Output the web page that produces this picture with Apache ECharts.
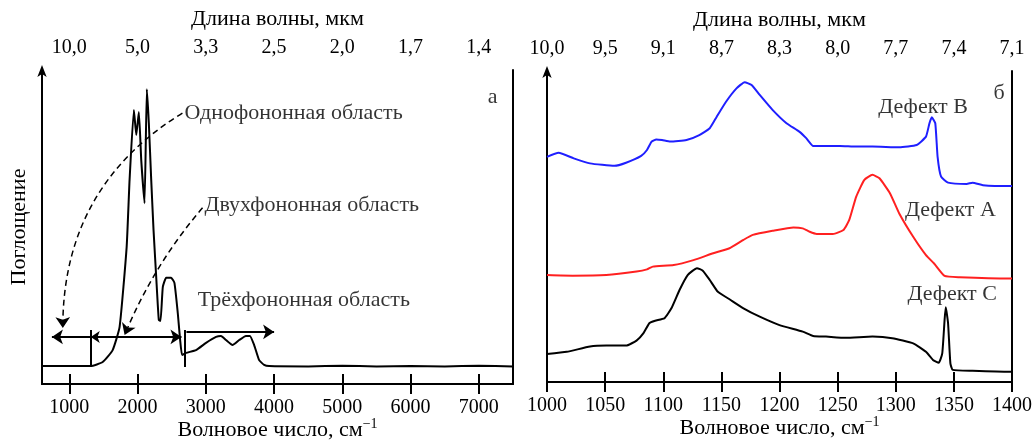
<!DOCTYPE html>
<html>
<head>
<meta charset="utf-8">
<script src="https://cdn.jsdelivr.net/npm/echarts@6/dist/echarts.min.js"></script>
<style>html,body{margin:0;padding:0;background:#fff;}#c{width:1032px;height:441px;}</style>
</head>
<body>
<div id="c"></div>
<script>
// ---------- Panel а (left) ----------
const leftTicks = [1000, 2000, 3000, 4000, 5000, 6000, 7000];
const leftX = [613, 1314, 1489, 1635, 1737, 1840, 1883, 1946, 1981, 2019, 2054, 2102, 2136, 2165, 2200, 2234, 2273, 2311, 2336, 2370, 2419, 2492, 2540, 2589, 2624, 2653, 2711, 2857, 3003, 3149, 3222, 3295, 3391, 3489, 3587, 3645, 3708, 3781, 3854, 3927, 4500, 5000, 5500, 6000, 6500, 7000, 7500];
const leftY = [5.7, 5.7, 7.0, 10.8, 18.2, 43.6, 65.0, 87.3, 79.3, 86.6, 71.3, 57.6, 93.9, 83.1, 65.0, 49.0, 34.1, 20.4, 20.1, 30.9, 33.8, 33.8, 32.2, 22.6, 14.0, 9.2, 9.9, 10.8, 13.1, 15.0, 15.3, 14.0, 12.4, 14.0, 15.3, 15.3, 12.4, 7.6, 6.1, 5.7, 5.6, 5.8, 5.6, 5.7, 5.6, 5.8, 5.6];
const leftTexts = ['Однофононная область', 'Двухфононная область', 'Трёхфононная область'];
const leftTextPos = [[2686, 86.3], [2980, 57.0], [2880, 26.8]];
// annotation geometry (data coordinates)
const dashedArrows = [[[2657, 86.3], [905, 17.8]], [[2952, 56.1], [1810, 15.6]]];
const dashedCurv = [-0.28, -0.08];
const singleArrows = [[[1314, 15.0], [745, 15.0]], [[2716, 16.6], [4000, 16.6]]];
const doubleArrows = [[[1314, 15.0], [2643, 15.0]]];
const bars = [[[1314, 17.2], [1314, 5.4]], [[2686, 17.2], [2686, 5.4]]];

// ---------- Panel б (right) ----------
const rightTicks = [1000, 1050, 1100, 1150, 1200, 1250, 1300, 1350, 1400];
const blueX = [1000, 1010, 1023, 1037, 1058, 1068, 1081, 1086, 1090, 1094, 1099, 1106, 1120, 1131, 1140, 1146, 1154, 1163, 1170, 1176, 1183, 1194, 1206, 1217, 1223, 1229, 1237, 1252, 1266, 1280, 1303, 1318, 1326, 1329, 1331, 1334, 1336, 1339, 1345, 1361, 1366, 1375, 1398, 1400];
const blueY = [72.4, 73.7, 71.9, 70.3, 69.5, 70.5, 72.7, 74.6, 77.3, 78.0, 77.8, 77.3, 77.8, 79.4, 81.6, 85.3, 90.1, 94.4, 96.4, 95.5, 92.3, 87.5, 83.2, 80.5, 78.4, 75.9, 75.9, 75.9, 75.7, 75.7, 75.5, 76.2, 78.9, 83.2, 85.1, 83.2, 72.4, 66.0, 64.1, 63.7, 64.1, 63.3, 63.0, 63.0];
const redX = [1000, 1022, 1051, 1077, 1086, 1091, 1109, 1126, 1143, 1157, 1169, 1177, 1194, 1212, 1220, 1226, 1232, 1246, 1255, 1260, 1266, 1273, 1280, 1286, 1295, 1303, 1315, 1326, 1333, 1342, 1355, 1398, 1400];
const redY = [34.4, 34.2, 34.4, 35.5, 36.2, 37.1, 37.6, 39.2, 41.4, 43.0, 45.7, 47.3, 48.6, 49.7, 49.4, 48.3, 47.6, 47.6, 48.9, 52.1, 59.6, 65.0, 66.6, 65.5, 60.7, 54.2, 46.7, 40.8, 38.1, 34.1, 33.7, 33.3, 33.3];
const blackX = [1000, 1017, 1037, 1051, 1068, 1077, 1083, 1088, 1093, 1101, 1107, 1114, 1121, 1129, 1134, 1140, 1147, 1157, 1169, 1183, 1200, 1220, 1229, 1240, 1257, 1280, 1297, 1315, 1326, 1332, 1337, 1340, 1342, 1343, 1345, 1347, 1349, 1366, 1398, 1400];
const blackY = [9.0, 9.7, 11.4, 11.7, 11.7, 13.3, 15.7, 18.9, 19.7, 20.5, 23.7, 29.6, 34.4, 36.6, 35.8, 32.8, 29.0, 26.6, 23.7, 21.0, 18.3, 16.2, 14.8, 14.6, 14.2, 14.6, 14.1, 12.4, 9.7, 7.1, 6.2, 9.2, 19.9, 24.0, 18.9, 6.0, 3.9, 3.6, 3.3, 3.3];
const rightTexts = ['Дефект B', 'Дефект A', 'Дефект C'];
const rightTextPos = [[1285, 88.4], [1308, 55.3], [1310, 28.3]];
const panelLetters = ['а', 'б'];
const letterPos = [[7200, 91.4], [1389, 92.9]];

const zip = (xs, ys) => xs.map((x, i) => [x, ys[i]]);
const FONT = 'Liberation Serif';
const wl = v => (10000 / v).toFixed(1).replace('.', ',');

function xBottom(grid, min, max, ticks, name) {
  return {
    type: 'value', gridIndex: grid, position: 'bottom', min: min, max: max,
    axisLine: { show: true, lineStyle: { color: '#000', width: 2 } },
    axisTick: { show: true, inside: true, length: 10, lineStyle: { color: '#000', width: 2 }, customValues: ticks },
    axisLabel: { show: true, margin: 14, color: '#000', fontFamily: FONT, fontSize: 20, customValues: ticks, formatter: v => String(v) },
    splitLine: { show: false },
    name: '{m|' + name + '}{s|−1}', nameLocation: 'middle', nameGap: 33, nameMoveOverlap: false,
    nameTextStyle: { color: '#000', fontFamily: FONT, fontSize: 22,
      rich: { m: { fontFamily: FONT, fontSize: 22, color: '#000', verticalAlign: 'bottom', lineHeight: 24 },
              s: { fontFamily: FONT, fontSize: 14, color: '#000', verticalAlign: 'top', lineHeight: 24 } } }
  };
}
function xTop(grid, min, max, ticks) {
  return {
    type: 'value', gridIndex: grid, position: 'top', min: min, max: max,
    axisLine: { show: true, lineStyle: { color: '#000', width: 2 } },
    axisTick: { show: true, inside: true, length: 10, lineStyle: { color: '#000', width: 2 }, customValues: ticks },
    axisLabel: { show: true, margin: 12, color: '#000', fontFamily: FONT, fontSize: 20, customValues: ticks, formatter: v => wl(v) },
    splitLine: { show: false },
    name: 'Длина волны, мкм', nameLocation: 'middle', nameGap: 40, nameMoveOverlap: false,
    nameTextStyle: { color: '#000', fontFamily: FONT, fontSize: 22 }
  };
}
function yAx(grid, name) {
  return {
    type: 'value', gridIndex: grid, min: 0, max: 100,
    axisLine: { show: true, onZero: false, lineStyle: { color: '#000', width: 2 }, symbol: ['none', 'arrow'], symbolSize: [7, 12], symbolOffset: [0, 5] },
    axisTick: { show: false }, axisLabel: { show: false }, splitLine: { show: false },
    name: name, nameLocation: 'middle', nameGap: 12, nameRotate: 90, nameMoveOverlap: false,
    nameTextStyle: { color: '#000', fontFamily: FONT, fontSize: 22 }
  };
}
function yRight(grid) {
  return {
    type: 'value', gridIndex: grid, min: 0, max: 100, position: 'right',
    axisLine: { show: true, onZero: false, lineStyle: { color: '#000', width: 2 } },
    axisTick: { show: false }, axisLabel: { show: false }, splitLine: { show: false }
  };
}
function textSeries(xi, yi, texts, pos, size, align) {
  return {
    type: 'scatter', xAxisIndex: xi, yAxisIndex: yi, symbolSize: 0, silent: true,
    data: texts.map((t, i) => ({ value: pos[i], name: t })),
    label: { show: true, position: align === 'center' ? 'inside' : 'right', distance: 0, formatter: p => p.name,
      color: '#000', fontFamily: FONT, fontSize: size },
    z: 10
  };
}
function linesSeries(segs, symbol, dashed, curv) {
  return {
    type: 'lines', coordinateSystem: 'cartesian2d', xAxisIndex: 0, yAxisIndex: 0, silent: true,
    symbol: symbol, symbolSize: [9, 11],
    lineStyle: { color: '#000', width: dashed ? 1.5 : 2, type: dashed ? [6, 4] : 'solid', opacity: 1, curveness: 0 },
    data: segs.map((s, i) => ({ coords: s, lineStyle: { curveness: curv ? curv[i] : 0 } })),
    z: 5
  };
}

const chart = echarts.init(document.getElementById('c'), null, { renderer: 'canvas' });
chart.setOption({
  backgroundColor: '#fff',
  animation: false,
  grid: [
    { left: 42, right: 519, top: 70, bottom: 57, outerBoundsMode: 'none', containLabel: false },
    { left: 547, right: 20, top: 71, bottom: 59, outerBoundsMode: 'none', containLabel: false }
  ],
  xAxis: [
    xBottom(0, 600, 7500, leftTicks, 'Волновое число, см'),
    xTop(0, 600, 7500, leftTicks),
    xBottom(1, 1000, 1400, rightTicks, 'Волновое число, см'),
    xTop(1, 1000, 1400, rightTicks)
  ],
  yAxis: [yAx(0, 'Поглощение'), yRight(0), yAx(1, ''), yRight(1)],
  series: [
    { type: 'line', xAxisIndex: 0, yAxisIndex: 0, data: zip(leftX, leftY), showSymbol: false, smooth: 0.15,
      lineStyle: { color: '#000', width: 2 } },
    linesSeries(dashedArrows, ['none', 'arrow'], true, dashedCurv),
    linesSeries(singleArrows, ['none', 'arrow'], false),
    linesSeries(doubleArrows, ['arrow', 'arrow'], false),
    linesSeries(bars, ['none', 'none'], false),
    textSeries(0, 0, leftTexts, leftTextPos, 22, 'right'),
    textSeries(0, 0, [panelLetters[0]], [letterPos[0]], 22, 'center'),
    { type: 'line', xAxisIndex: 2, yAxisIndex: 2, data: zip(blueX, blueY), showSymbol: false, smooth: 0.15,
      lineStyle: { color: '#1f1fff', width: 2 } },
    { type: 'line', xAxisIndex: 2, yAxisIndex: 2, data: zip(redX, redY), showSymbol: false, smooth: 0.15,
      lineStyle: { color: '#ff2020', width: 2 } },
    { type: 'line', xAxisIndex: 2, yAxisIndex: 2, data: zip(blackX, blackY), showSymbol: false, smooth: 0.15,
      lineStyle: { color: '#000', width: 2 } },
    textSeries(2, 2, rightTexts, rightTextPos, 22, 'right'),
    textSeries(2, 2, [panelLetters[1]], [letterPos[1]], 22, 'center')
  ]
});
</script>
</body>
</html>
